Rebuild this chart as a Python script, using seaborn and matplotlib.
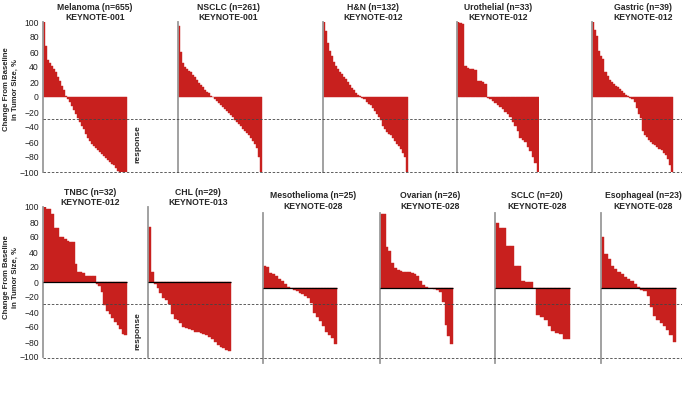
import numpy as np
import pandas as pd
import matplotlib
matplotlib.use("Agg")
import matplotlib.pyplot as plt
import seaborn as sns
from matplotlib.lines import Line2D

sns.set_style("white")
plt.rcParams['font.family'] = ['Liberation Sans', 'DejaVu Sans']

# best % change from baseline per patient, sorted
melanoma = [100, 68, 50, 45, 41, 37, 33, 27, 22, 15, 9, 2, -3, -7, -12, -17, -22, -28, -33, -38, -43,
            -49, -54, -58, -62, -65, -68, -71, -73, -76, -78, -81, -84, -86, -89, -91, -95, -99,
            -100, -100, -100, -100]
nsclc = [95, 60, 45, 40, 37, 35, 33, 30, 27, 23, 19, 16, 13, 10, 7, 5, 2, 0.5, -2, -5, -8, -10,
         -13, -16, -19, -21, -24, -27, -30, -33, -36, -39, -42, -45, -48, -51, -55, -59, -63, -68,
         -80, -100]
hn = [100, 88, 72, 62, 55, 47, 42, 37, 34, 31, 27, 24, 20, 16, 12, 9, 6, 3, 1, -1, -3, -6, -9, -11,
      -15, -19, -22, -27, -31, -38, -43, -46, -49, -51, -55, -59, -62, -65, -69, -74, -80, -100]
urothelial = [100, 99, 97, 41, 39, 37, 37, 36, 22, 21, 20, 17, -1, -3, -5, -8, -10, -13, -16, -20,
              -23, -27, -33, -38, -45, -54, -57, -60, -66, -72, -80, -88, -100]
gastric = [100, 90, 82, 62, 55, 51, 33, 28, 23, 20, 18, 15, 13, 11, 8, 6, 3, 1, -1, -3, -6, -14,
           -22, -28, -45, -50, -53, -57, -60, -62, -64, -67, -69, -71, -74, -77, -82, -90, -100]
tnbc = [100, 98, 97, 91, 72, 72, 60, 60, 58, 55, 54, 54, 24, 14, 14, 12, 8, 8, 8, 8, -2, -5, -13,
        -30, -38, -42, -48, -53, -57, -62, -69, -71]
chl = [74, 14, -3, -8, -14, -21, -24, -29, -42, -49, -50, -55, -60, -61, -62, -64, -66, -67, -68,
       -69, -70, -73, -76, -80, -84, -86, -88, -91, -92]
meso = [29, 28, 20, 19, 16, 12, 10, 5, 1, 0.5, -2, -4, -6, -8, -10, -13, -20, -33, -38, -44, -50,
        -58, -62, -67, -75]
ovarian = [99, 99, 55, 50, 34, 27, 24, 23, 22, 21, 21, 20, 19, 16, 9, 4, 1, 0.3, 0, -1, -3, -5,
           -18, -49, -64, -75]
sclc = [87, 80, 80, 56, 56, 29, 29, 10, 8, 8, 0, -36, -38, -42, -50, -57, -60, -61, -68, -68]
esophageal = [68, 45, 39, 30, 25, 22, 19, 15, 12, 9, 6, 1, -2, -4, -10, -25, -37, -43, -46, -50,
              -56, -62, -72]

titles = ["Melanoma (n=655)\nKEYNOTE-001", "NSCLC (n=261)\nKEYNOTE-001", "H&N (n=132)\nKEYNOTE-012",
          "Urothelial (n=33)\nKEYNOTE-012", "Gastric (n=39)\nKEYNOTE-012",
          "TNBC (n=32)\nKEYNOTE-012", "CHL (n=29)\nKEYNOTE-013", "Mesothelioma (n=25)\nKEYNOTE-028",
          "Ovarian (n=26)\nKEYNOTE-028", "SCLC (n=20)\nKEYNOTE-028", "Esophageal (n=23)\nKEYNOTE-028"]
yticks = list(range(-100, 101, 20))
ylab = "Change From Baseline\nin Tumor Size, %"

BAR = '#c8201e'
GREY = '#9a9a9a'
WPX, HPX = 682, 396

fig = plt.figure(figsize=(6.82, 3.96), dpi=100)


def fx(x):
    return x / WPX


def fy(y):
    return 1 - y / HPX


# data, title, spine x, bars end x, title centre x, y of +100 (all px), zero line, tick labels, title pad
panels = [
    (melanoma, titles[0], 43, 127, 95, 22, False, True, -1.5),
    (nsclc, titles[1], 178, 262, 228, 22, False, False, -1.5),
    (hn, titles[2], 323, 408, 373, 22, False, False, -1.5),
    (urothelial, titles[3], 457, 539, 498, 22, False, False, -1.5),
    (gastric, titles[4], 592, 673, 643, 22, False, False, -1.5),
    (tnbc, titles[5], 43, 127, 90, 207, True, True, -1.5),
    (chl, titles[6], 148, 231, 198, 207, True, False, -1.5),
    (meso, titles[7], 263, 337, 313, 213, True, False, 3),
    (ovarian, titles[8], 380, 453, 430, 213, True, False, 3),
    (sclc, titles[9], 495, 570, 537, 213, True, False, 3),
    (esophageal, titles[10], 601, 676, 643, 213, True, False, 3),
]

for vals, title, left, end, centre, top, zline, labels, pad in panels:
    n = len(vals)
    w = 2 * (centre - left)
    ax = fig.add_axes([fx(left), fy(top + 150), w / WPX, 150 / HPX])
    df = pd.DataFrame({'pt': np.arange(n), 'chg': vals})
    sns.barplot(data=df, x='pt', y='chg', color=BAR, saturation=1, width=1, errorbar=None,
                linewidth=0.3, edgecolor=BAR, ax=ax)
    if zline:
        ax.hlines(0, -0.5, n - 0.5, color='black', lw=0.9, zorder=3)
    ax.set_xlim(-0.5, -0.5 + n * w / (end - left))
    ax.set_ylim(-100, 100)
    ax.set_yticks(yticks)
    ax.set_xticks([])
    ax.set_xlabel('')
    ax.set_ylabel('')
    for s in ['top', 'right', 'bottom']:
        ax.spines[s].set_visible(False)
    ax.spines['left'].set_color(GREY)
    ax.spines['left'].set_linewidth(1.3)
    ax.tick_params(axis='y', length=2, width=0.8, color=GREY, pad=1, labelsize=6.2,
                   labelcolor='#222222', labelleft=labels)
    ax.patch.set_alpha(0)
    ax.set_title(title, fontsize=6.2, fontweight='bold', pad=pad, linespacing=1.2)

# threshold lines (-30 % response, -100 %) across each row
for ypx in [119.5, 172, 304, 358]:
    fig.add_artist(Line2D([fx(43), 1], [fy(ypx), fy(ypx)], transform=fig.transFigure,
                          color='#444444', lw=0.6, ls=(0, (3, 2))))

for ycen, rcen in [(89, 144), (277, 331)]:
    fig.text(fx(11), fy(ycen), ylab, rotation=90, ha='center', va='center', fontsize=5.6,
             fontweight='bold', linespacing=1.3)
    fig.text(fx(138), fy(rcen), 'response', rotation=90, ha='center', va='center', fontsize=6,
             fontweight='bold')

fig.savefig('out.png', dpi=100)
